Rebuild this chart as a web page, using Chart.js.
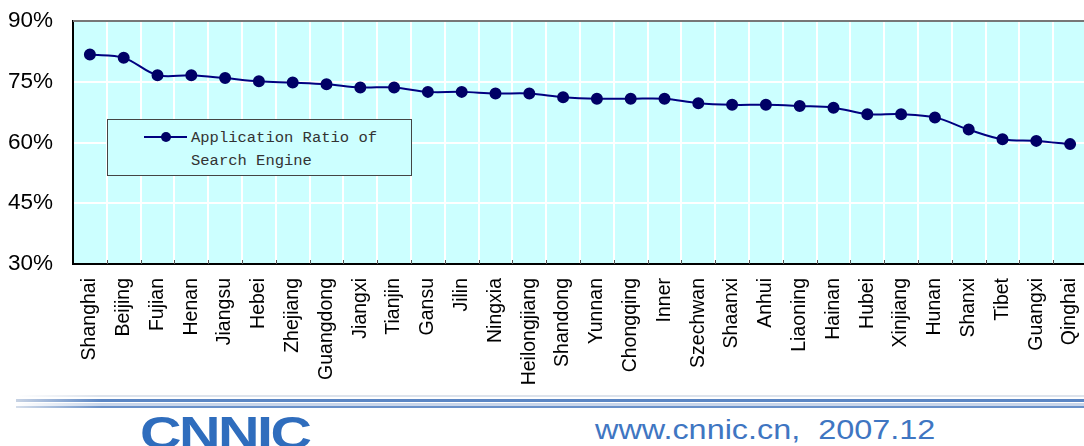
<!DOCTYPE html>
<html>
<head>
<meta charset="utf-8">
<script src="https://cdn.jsdelivr.net/npm/chart.js@4"></script>
<style>
  html, body { margin:0; padding:0; background:#fff; overflow:hidden; width:1084px; height:446px; }
  #wrap { position:absolute; left:0; top:0; width:1094px; height:384px; }
  #legend { position:absolute; left:107px; top:119px; width:303px; height:55px; border:1px solid #444;
    background:#ccffff; font-family:"Liberation Mono", monospace; font-size:15.5px; color:#333; }
  #legend .ln { position:absolute; left:36px; top:16px; width:43px; height:2px; background:#000080; }
  #legend .dot { position:absolute; left:53px; top:12px; width:10px; height:10px; border-radius:50%; background:#000066; }
  #legend .txt { position:absolute; left:83px; top:7px; line-height:23px; }
  #footer { position:absolute; left:0; top:384px; width:1084px; height:62px; background:#fff; overflow:hidden; }
  .band { position:absolute; left:16px; right:0; }
  #logo { position:absolute; left:140px; top:26px; font-family:Arial, sans-serif; font-weight:bold; font-size:46px;
    color:#2f6dbd; letter-spacing:-2px; transform:scaleX(1.25); transform-origin:left top; line-height:46px; }
  #url { position:absolute; left:595px; top:32px; font-family:Arial, sans-serif; font-size:27px; color:#3f76c2;
    transform:scaleX(1.2); transform-origin:left top; line-height:28px; white-space:pre; }
</style>
</head>
<body>
<div id="wrap"><canvas id="c" width="1094" height="384"></canvas></div>
<div id="legend"><div class="ln"></div><div class="dot"></div><div class="txt">Application Ratio of<br>Search Engine</div></div>
<div id="footer">
  <div class="band" style="top:11px;height:2px;background:linear-gradient(90deg,#fff,#dde3ec 8%,#dde3ec)"></div>
  <div class="band" style="top:15px;height:3px;background:linear-gradient(90deg,#c8d3e4,#5b86c4 8%,#5b86c4)"></div>
  <div class="band" style="top:19px;height:3px;background:linear-gradient(90deg,#fff,#c9d6ea 8%,#c9d6ea)"></div>
  <div class="band" style="top:22px;height:2px;background:linear-gradient(90deg,#d5deeb,#6a91c9 8%,#6a91c9)"></div>
  <div id="logo">CNNIC</div>
  <div id="url">www.cnnic.cn,  2007.12</div>
</div>
<script>
const provinces = ['Shanghai','Beijing','Fujian','Henan','Jiangsu','Hebei','Zhejiang','Guangdong','Jiangxi','Tianjin',
  'Gansu','Jilin','Ningxia','Heilongjiang','Shandong','Yunnan','Chongqing','Inner','Szechwan','Shaanxi',
  'Anhui','Liaoning','Hainan','Hubei','Xinjiang','Hunan','Shanxi','Tibet','Guangxi','Qinghai'];
const ratio = [81.7,80.9,76.6,76.6,75.9,75.1,74.8,74.4,73.6,73.6,
  72.5,72.5,72.1,72.1,71.2,70.8,70.8,70.8,69.7,69.3,
  69.3,69.0,68.6,67.0,67.0,66.2,63.2,60.8,60.4,59.6];
const yTicks = [30,45,60,75,90];

const plotBg = {
  id:'plotBg',
  beforeDraw(chart) {
    const {ctx, chartArea:a} = chart;
    ctx.save();
    ctx.fillStyle = '#ccffff';
    ctx.fillRect(a.left, a.top, a.right - a.left, a.bottom - a.top);
    ctx.restore();
  },
  afterDatasetsDraw(chart) {
    const {ctx, chartArea:a, scales:{x}} = chart;
    ctx.save();
    ctx.strokeStyle = '#777';
    ctx.lineWidth = 2;
    ctx.beginPath(); ctx.moveTo(a.left, a.top); ctx.lineTo(a.right, a.top); ctx.stroke();
    // little tick marks on the category boundaries
    const half = (x.getPixelForValue(1) - x.getPixelForValue(0)) / 2;
    ctx.strokeStyle = '#555';
    ctx.lineWidth = 1;
    for (let i = 0; i < provinces.length; i++) {
      const px = Math.round(x.getPixelForValue(i) + half) + 0.5;
      ctx.beginPath(); ctx.moveTo(px, a.bottom - 4); ctx.lineTo(px, a.bottom); ctx.stroke();
    }
    ctx.restore();
  }
};

new Chart(document.getElementById('c'), {
  type:'line',
  data:{ labels:provinces, datasets:[{
    label:'Application Ratio of Search Engine', data:ratio,
    borderColor:'#000080', borderWidth:2,
    pointBackgroundColor:'#000066', pointBorderColor:'#000066', pointRadius:5,
    tension:0.35, fill:false
  }]},
  options:{
    responsive:false, animation:false,
    layout:{ padding:{ top:21, right:0, left:0, bottom:0 } },
    plugins:{ legend:{ display:false }, tooltip:{ enabled:false } },
    scales:{
      x:{
        offset:true,
        afterFit:s => { s.height = 120; s.paddingLeft = 0; s.paddingRight = 0; },
        grid:{ color:'#ffffff', lineWidth:2, drawTicks:false, offset:true },
        border:{ color:'#000', width:2 },
        ticks:{ color:'#000', font:{ family:'Arial', size:19.5 }, minRotation:90, maxRotation:90, padding:14, autoSkip:false }
      },
      y:{
        min:30, max:90,
        afterFit:s => { s.width = 73; s.paddingTop = 0; s.paddingBottom = 0; },
        afterBuildTicks:s => { s.ticks = yTicks.map(v => ({ value:v })); },
        grid:{ color:'#ffffff', lineWidth:2, drawTicks:false },
        border:{ color:'#000', width:2 },
        ticks:{ color:'#000', font:{ family:'Arial', size:22.5 }, padding:20, callback:v => v + '%' }
      }
    }
  },
  plugins:[plotBg]
});
</script>
</body>
</html>
